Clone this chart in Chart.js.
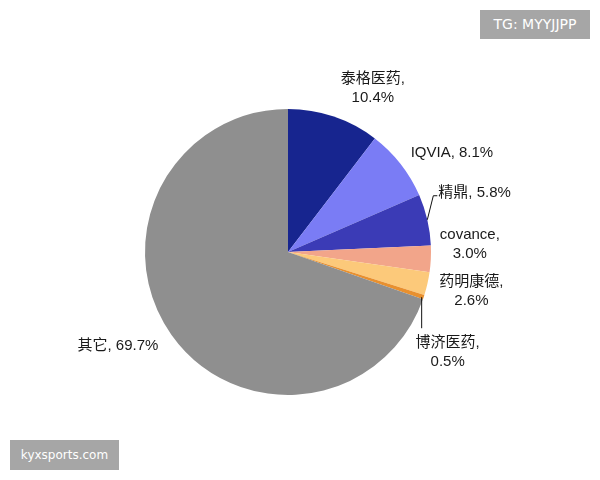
<!DOCTYPE html>
<html>
<head>
<meta charset="utf-8">
<script src="https://cdn.jsdelivr.net/npm/chart.js@4/dist/chart.umd.min.js"></script>
<style>
  html, body { margin: 0; padding: 0; background: #fff; }
  #wrap { position: relative; width: 600px; height: 480px; }
  .mark {
    position: absolute;
    background: #a6a6a6;
    color: #fff;
    font: 14px "DejaVu Sans", sans-serif;
    text-align: center;
  }
</style>
</head>
<body>
<div id="wrap">
  <canvas id="pie" width="600" height="480"></canvas>
  <div class="mark" style="left:480px; top:10px; width:110px; height:29px; line-height:29px;">TG: MYYJJPP</div>
  <div class="mark" style="left:10px; top:440px; width:109px; height:30px; line-height:30px; font-size:12px;">kyxsports.com</div>
</div>
<script>
const names = ['泰格医药', 'IQVIA', '精鼎', 'covance', '药明康德', '博济医药', '其它'];
const shares = [10.4, 8.1, 5.8, 3.0, 2.6, 0.5, 69.7];
const colors = ['#17258f', '#7a7cf5', '#3b3bb6', '#f2a58a', '#fcc97a', '#e8902f', '#8f8f8f'];

// where each label sits, relative to the middle of the slice's outer edge
const labelStyle = [
  { dx: 39, dy: -38, align: 'center', split: true },
  { dx: 10, dy: -11, align: 'left', split: false },
  { dx: 11, dy: -27, align: 'left', split: false, leader: [[0, 0], [6, -24], [10, -24]] },
  { dx: 39, dy: -24, align: 'center', split: true },
  { dx: 44, dy: -2, align: 'center', split: true },
  { dx: 24, dy: 46, align: 'center', split: true, leader: [[-2, 0], [-2, 31]] },
  { dx: -13, dy: 11, align: 'right', split: false }
];

const labelPlugin = {
  id: 'sliceLabels',
  afterDraw(chart) {
    const ctx = chart.ctx;
    const arcs = chart.getDatasetMeta(0).data;
    ctx.save();
    ctx.fillStyle = '#1a1a1a';
    ctx.strokeStyle = '#111';
    ctx.lineWidth = 1;
    ctx.textBaseline = 'middle';
    ctx.font = '15px "Liberation Sans", "Noto Sans CJK SC", sans-serif';
    arcs.forEach((arc, i) => {
      const p = arc.getProps(['x', 'y', 'startAngle', 'endAngle', 'outerRadius'], true);
      const mid = (p.startAngle + p.endAngle) / 2;
      const ex = p.x + Math.cos(mid) * p.outerRadius;
      const ey = p.y + Math.sin(mid) * p.outerRadius;
      const st = labelStyle[i];

      if (st.leader) {
        ctx.beginPath();
        st.leader.forEach((pt, k) => {
          if (k === 0) ctx.moveTo(ex + pt[0], ey + pt[1]);
          else ctx.lineTo(ex + pt[0], ey + pt[1]);
        });
        ctx.stroke();
      }

      ctx.textAlign = st.align;
      const val = shares[i].toFixed(1) + '%';
      if (st.split) {
        ctx.fillText(names[i] + ',', ex + st.dx, ey + st.dy);
        ctx.fillText(val, ex + st.dx, ey + st.dy + 19);
      } else {
        ctx.fillText(names[i] + ', ' + val, ex + st.dx, ey + st.dy);
      }
    });
    ctx.restore();
  }
};

new Chart(document.getElementById('pie'), {
  type: 'pie',
  data: {
    labels: names,
    datasets: [{
      data: shares,
      backgroundColor: colors,
      borderWidth: 0
    }]
  },
  options: {
    responsive: false,
    animation: false,
    layout: { padding: { left: 145, right: 169, top: 109, bottom: 85 } },
    plugins: {
      legend: { display: false },
      tooltip: { enabled: false }
    }
  },
  plugins: [labelPlugin]
});
</script>
</body>
</html>
